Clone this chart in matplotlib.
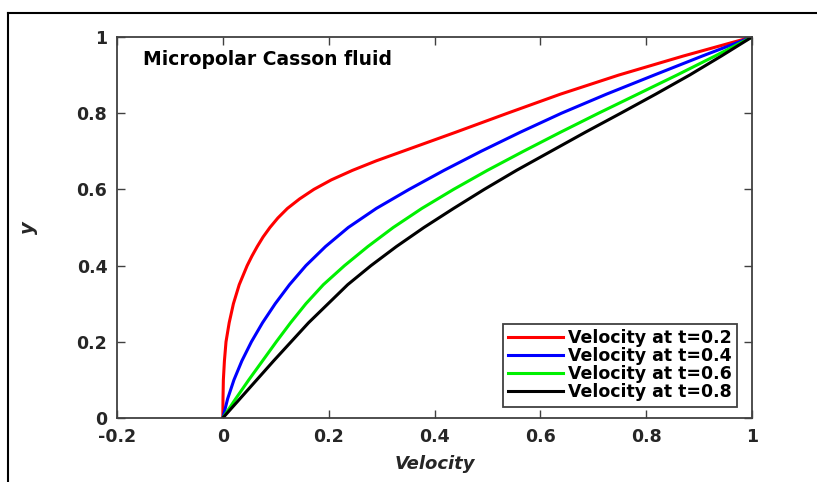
import matplotlib
matplotlib.use("Agg")
import matplotlib.pyplot as plt
from matplotlib.lines import Line2D

plt.rcParams['font.family'] = ['DejaVu Sans']

# velocity profiles: velocity (x) at y levels
y_t02 = [0, 0.05, 0.1, 0.15, 0.2, 0.25, 0.3, 0.35, 0.4, 0.425, 0.45, 0.475, 0.5,
         0.525, 0.55, 0.575, 0.6, 0.625, 0.65, 0.675, 0.7, 0.75, 0.8, 0.85, 0.9, 0.95, 1.0]
vel_t02 = [0, 0.0003, 0.001, 0.003, 0.006, 0.012, 0.02, 0.031, 0.046, 0.055, 0.065, 0.076, 0.089,
           0.104, 0.122, 0.145, 0.172, 0.205, 0.245, 0.29, 0.34, 0.44, 0.538, 0.638, 0.748, 0.87, 1.0]

y_levels = [0, 0.05, 0.1, 0.15, 0.2, 0.25, 0.3, 0.35, 0.4, 0.45, 0.5,
            0.55, 0.6, 0.65, 0.7, 0.75, 0.8, 0.85, 0.9, 0.95, 1.0]
vel_t04 = [0, 0.009, 0.021, 0.036, 0.054, 0.075, 0.099, 0.126, 0.157, 0.194, 0.237,
           0.29, 0.352, 0.418, 0.488, 0.562, 0.64, 0.725, 0.815, 0.906, 1.0]
vel_t06 = [0, 0.024, 0.049, 0.075, 0.101, 0.128, 0.157, 0.19, 0.23, 0.274, 0.322,
           0.376, 0.436, 0.5, 0.568, 0.638, 0.71, 0.784, 0.858, 0.93, 1.0]
vel_t08 = [0, 0.032, 0.064, 0.096, 0.129, 0.162, 0.199, 0.236, 0.28, 0.328, 0.38,
           0.436, 0.494, 0.555, 0.62, 0.685, 0.752, 0.818, 0.882, 0.942, 1.0]

labels = ['Velocity at t=0.2', 'Velocity at t=0.4', 'Velocity at t=0.6', 'Velocity at t=0.8']
colors = ['#ff0000', '#0000ff', '#00f000', '#000000']
xticks = [-0.2, 0, 0.2, 0.4, 0.6, 0.8, 1]
yticks = [0, 0.2, 0.4, 0.6, 0.8, 1]

fig = plt.figure(figsize=(8.17, 4.82), dpi=100)
ax = fig.add_axes([117/817, 64/482, 635/817, 381/482])

series = [(vel_t02, y_t02), (vel_t04, y_levels), (vel_t06, y_levels), (vel_t08, y_levels)]
for (vel, yy), c, lab in zip(series, colors, labels):
    ax.plot(vel, yy, color=c, lw=2.2, label=lab)

ax.set_xlim(-0.2, 1)
ax.set_ylim(0, 1)
ax.set_xticks(xticks)
ax.set_yticks(yticks)
ax.set_xticklabels(['-0.2', '0', '0.2', '0.4', '0.6', '0.8', '1'])
ax.set_yticklabels(['0', '0.2', '0.4', '0.6', '0.8', '1'])
ax.tick_params(direction='in', top=True, right=True, length=6, width=1,
               color='#404040', labelsize=12.5, pad=7)
for lab in ax.get_xticklabels() + ax.get_yticklabels():
    lab.set_fontweight('bold')
    lab.set_color('#262626')
for s in ax.spines.values():
    s.set_color('#404040')
    s.set_linewidth(1.3)

ax.set_xlabel('Velocity', fontsize=13, fontweight='bold', style='italic', color='#262626', labelpad=7)
ax.set_ylabel('y', fontsize=14, fontweight='bold', style='italic', color='#262626', labelpad=28)
ax.text(-0.151, 0.94, 'Micropolar Casson fluid', fontsize=13.5, fontweight='bold', va='center')

leg = ax.legend(loc='lower right', bbox_to_anchor=(0.976, 0.03),
                prop={'weight': 'bold', 'size': 12.5}, fancybox=False, framealpha=1,
                edgecolor='#404040', labelspacing=0.0, handlelength=3.2,
                handletextpad=0.25, borderpad=0.3, borderaxespad=0)
leg.get_frame().set_linewidth(1.3)

# outer frame (only top and left edges are visible in the crop)
fig.add_artist(Line2D([8/817, 1.0], [1 - 13/482, 1 - 13/482], color='black', lw=1.5,
                      transform=fig.transFigure))
fig.add_artist(Line2D([8/817, 8/817], [0.0, 1 - 13/482], color='black', lw=1.5,
                      transform=fig.transFigure))

fig.savefig('out.png', dpi=100)
